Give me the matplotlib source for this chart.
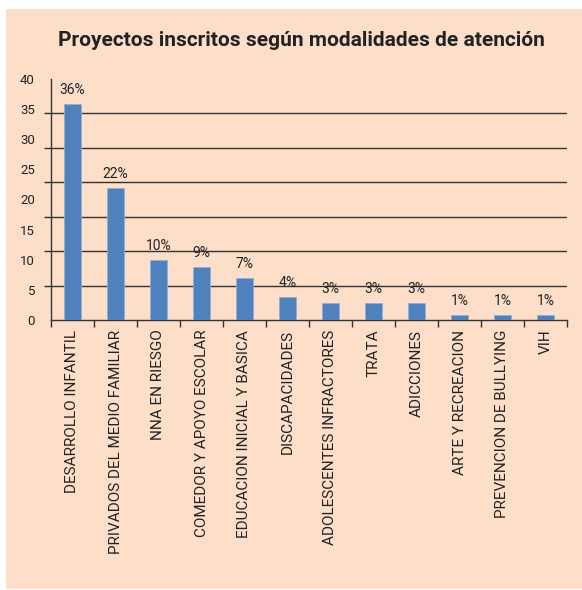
import matplotlib
matplotlib.use('Agg')
import matplotlib.pyplot as plt
from matplotlib.patches import Rectangle
import numpy as np

# Datos
modalidades = ['DESARROLLO INFANTIL', 'PRIVADOS DEL MEDIO FAMILIAR', 'NNA EN RIESGO',
               'COMEDOR Y APOYO ESCOLAR', 'EDUCACION INICIAL Y BASICA', 'DISCAPACIDADES',
               'ADOLESCENTES INFRACTORES', 'TRATA', 'ADICCIONES', 'ARTE Y RECREACION',
               'PREVENCION DE BULLYING', 'VIH']
porcentajes = [36, 22, 10, 9, 7, 4, 3, 3, 3, 1, 1, 1]
alturas = [35.8, 21.9, 9.9, 8.85, 6.9, 3.9, 2.9, 2.9, 2.9, 0.85, 0.85, 0.85]
ticks_y = [0, 5, 10, 15, 20, 25, 30, 35, 40]

plt.rcParams['font.family'] = ['Roboto', 'DejaVu Sans']

fondo = '#FDDEC8'
azul = '#4F81BD'

fig = plt.figure(figsize=(5.82, 5.90), dpi=100)
fig.patch.set_facecolor('white')
fig.add_artist(Rectangle((6 / 582, 1 / 590), 1 - 6 / 582, 1 - 10 / 590,
                         transform=fig.transFigure, facecolor=fondo,
                         edgecolor='none', zorder=-10))

ax = fig.add_axes([51 / 582, 1 - 320 / 590, (567 - 51) / 582, (320 - 79) / 590])
ax.set_facecolor('none')
ax.set_zorder(1)

x = np.arange(len(modalidades))
barras = ax.bar(x, alturas, width=0.4, color=azul, edgecolor='#8FAEDA',
                linewidth=0.6, zorder=3)

# Etiquetas de porcentaje
for xi, h, p in zip(x, alturas, porcentajes):
    ax.annotate(f'{p}%', (xi, h), xytext=(0, 5), textcoords='offset points',
                ha='center', va='bottom', fontsize=10, color='#222222')

ax.set_xlim(-0.5, len(modalidades) - 0.5)
ax.set_ylim(0, 40)

# Etiquetas del eje y (escala del original)
ax.set_yticks(ticks_y)
ax.set_yticklabels([str(t) for t in ticks_y], fontsize=9.5, color='#222222')
ax.tick_params(axis='y', which='major', length=0, pad=11.5)

# Lineas de la cuadricula (7 divisiones)
lineas_grid = [k * 40 / 7 for k in range(1, 8)]
ax.set_yticks(lineas_grid, minor=True)
ax.tick_params(axis='y', which='minor', length=5, width=1, color='#333333')
for g in lineas_grid[:-1]:
    ax.axhline(g, color='#333333', linewidth=1, zorder=1)

# Eje x
ax.set_xticks(np.arange(-0.5, len(modalidades) + 0.5, 1), minor=True)
ax.set_xticks(x)
ax.set_xticklabels(modalidades, rotation=90, fontsize=11, color='#222222')
ax.tick_params(axis='x', which='major', length=0, pad=7)
ax.tick_params(axis='x', which='minor', length=5, width=1, color='#333333')

for s in ['top', 'right']:
    ax.spines[s].set_visible(False)
for s in ['left', 'bottom']:
    ax.spines[s].set_color('#333333')
    ax.spines[s].set_linewidth(1)

fig.text(301 / 582, 1 - 40 / 590, 'Proyectos inscritos según modalidades de atención',
         ha='center', va='center', fontsize=15, fontweight='bold', color='#222222')

fig.savefig('out.png', dpi=100, facecolor=fig.get_facecolor())
